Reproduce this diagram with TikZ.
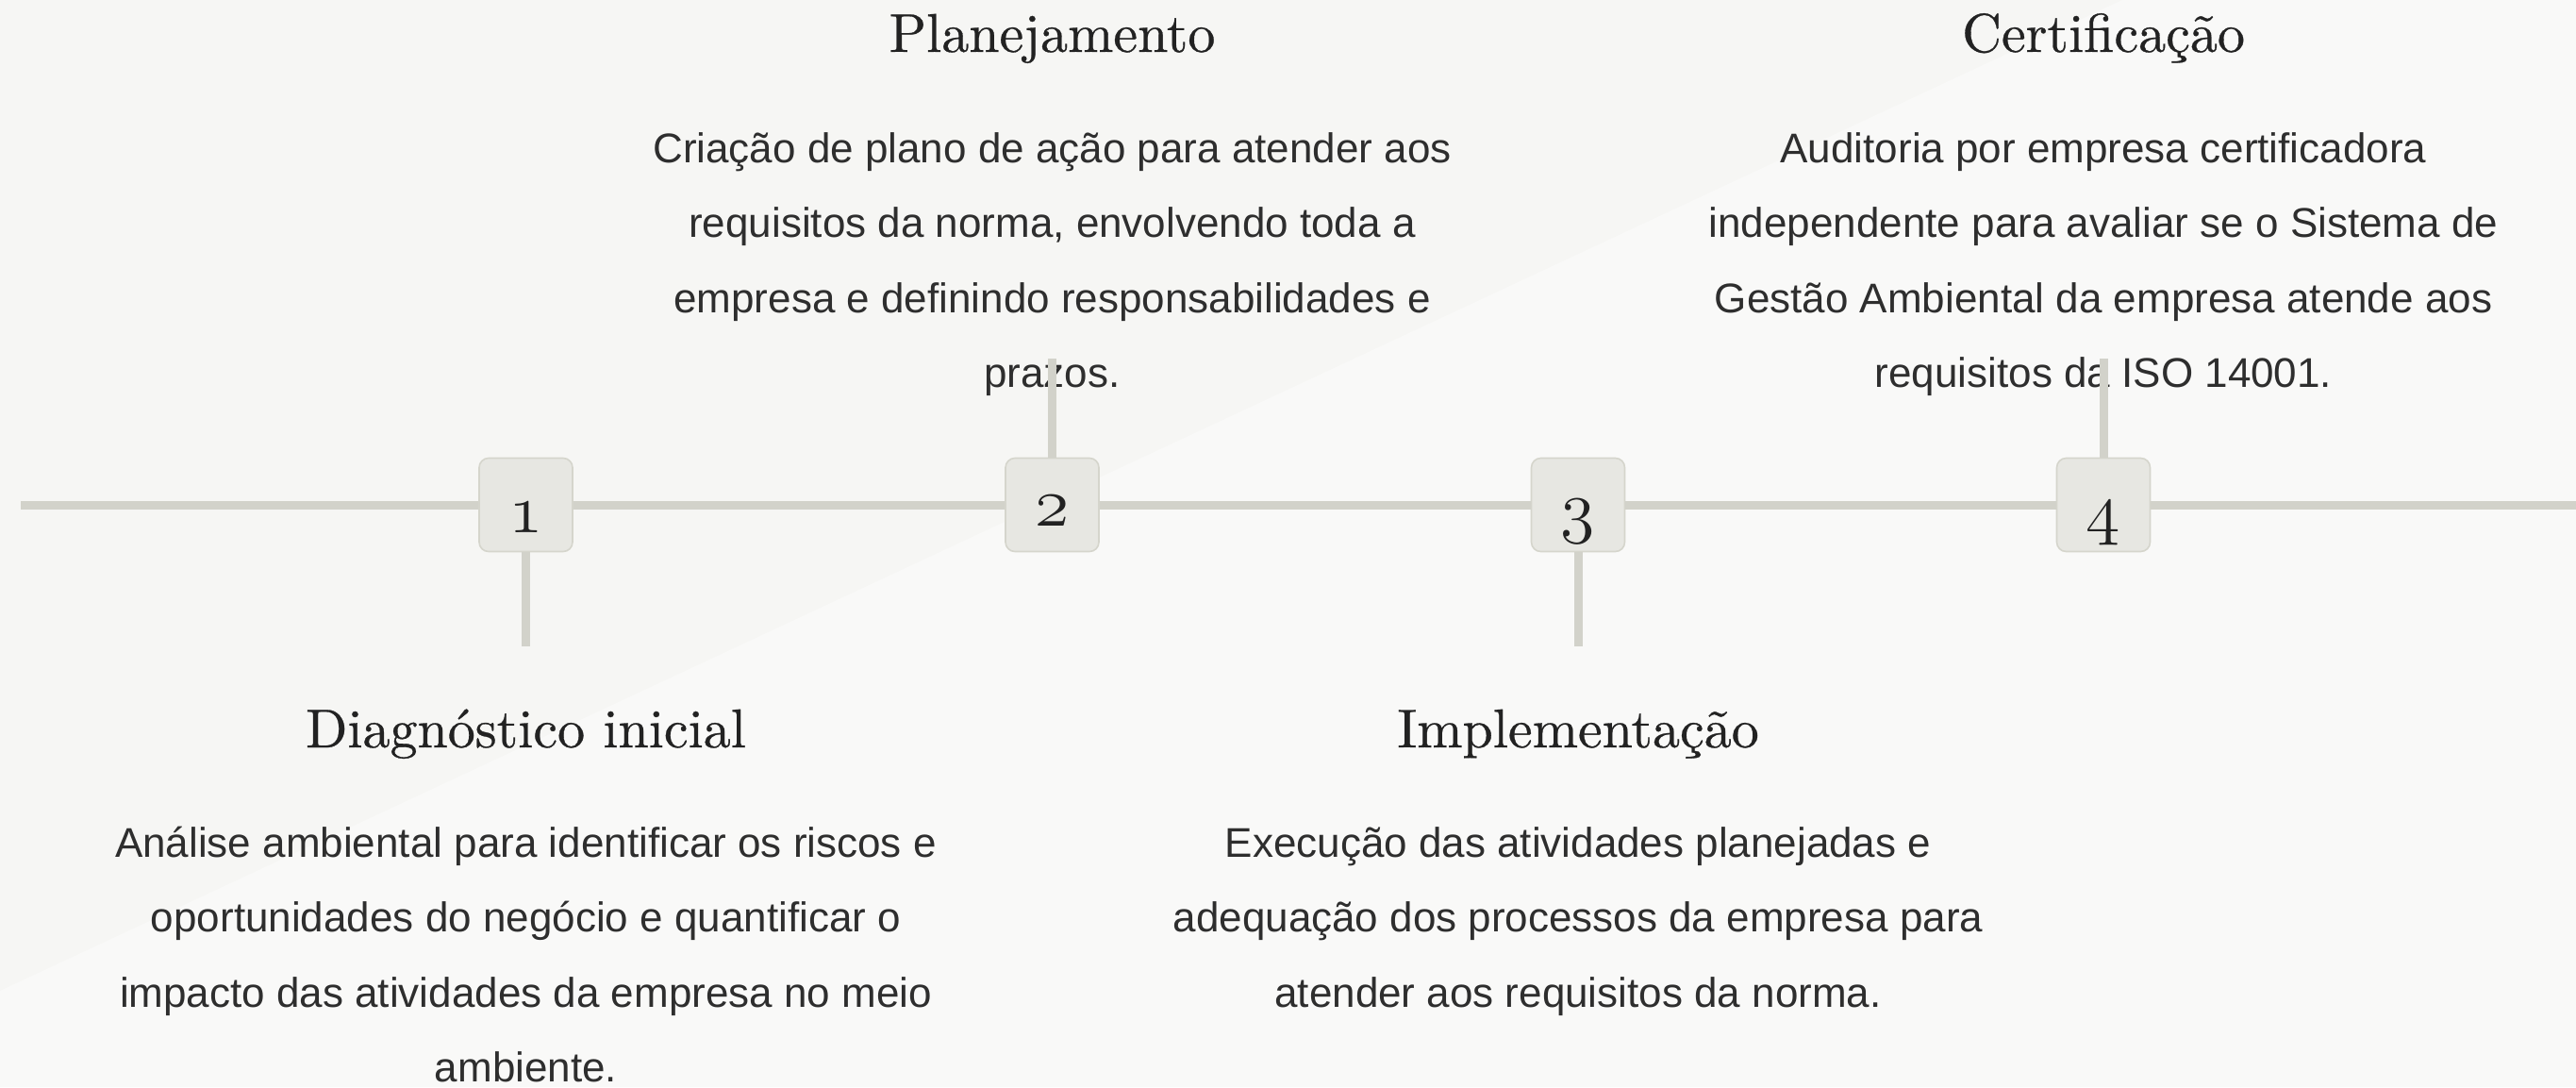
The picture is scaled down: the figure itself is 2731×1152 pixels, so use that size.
\RequirePackage{fix-cm}
\documentclass[tikz,border=0pt]{standalone}
\usepackage{fontspec}
\newfontfamily\bodyfont{Liberation Sans}
\newfontfamily\titlefont{lmroman10-regular.otf}[FakeBold=0.5]
\definecolor{bg}{HTML}{F6F6F4}
\definecolor{bglight}{HTML}{F9F9F8}
\definecolor{trackc}{HTML}{D2D2CA}
\definecolor{boxfill}{HTML}{E7E7E2}
\definecolor{boxline}{HTML}{D5D5CC}
\definecolor{ink}{HTML}{222222}
\definecolor{bodyink}{HTML}{2E2E2E}
\begin{document}
\begin{tikzpicture}[x=0.5pt,y=-0.5pt,
  track/.style={draw=trackc,line width=4.5pt},
  stepbox/.style={draw=boxline,fill=boxfill,line width=0.8pt,rounded corners=5pt,
    minimum width=49.5pt,minimum height=49.5pt,inner sep=0pt},
  num/.style={font=\fontsize{37}{37}\usefont{OML}{cmm}{m}{it},text=ink,anchor=base,inner sep=0pt},
  title/.style={font=\titlefont\fontsize{29}{35}\selectfont,text=ink,anchor=base,inner sep=0pt},
  body/.style={font=\bodyfont\fontsize{22}{39.75}\selectfont,text=bodyink,align=center,
    anchor=base,inner sep=0pt}]
% background
\fill[bg] (0,0) rectangle (2731,1152);
\fill[bglight] (2250,0) -- (2731,0) -- (2731,1152) -- (0,1152) -- (0,1050) -- cycle;
\useasboundingbox (0,0) rectangle (2731,1152);

% ends of the track and free ends of stems
\coordinate (tstart) at (22,535);
\coordinate (tend) at (2731,535);
\coordinate (s1) at (557.5,685);
\coordinate (s2) at (1115.5,380);
\coordinate (s3) at (1673,685);
\coordinate (s4) at (2230,380);

% boxes
\node[stepbox] (b1) at (557.5,535) {};
\node[stepbox] (b2) at (1115.5,535) {};
\node[stepbox] (b3) at (1673,535) {};
\node[stepbox] (b4) at (2230,535) {};

% track
\draw[track] (tstart) -- (b1.west);
\draw[track] (b1.east) -- (b2.west);
\draw[track] (b2.east) -- (b3.west);
\draw[track] (b3.east) -- (b4.west);
\draw[track] (b4.east) -- (tend);

% numbers
\node[num] (n1) at (557.5,564) {1};
\node[num] (n2) at (1115.5,557) {2};
\node[num] (n3) at (1673,561) {3};
\node[num] (n4) at (2230,563) {4};

% titles
\node[title] (t1) at (557.5,792) {Diagnóstico inicial};
\node[title] (t2) at (1115.5,55) {Planejamento};
\node[title] (t3) at (1673,792) {Implementação};
\node[title] (t4) at (2230,55) {Certificação};

% bodies (anchored at the baseline of the last line)
\node[body] (d1) at (557.5,1146.5) {Análise ambiental para identificar os riscos e\\
oportunidades do negócio e quantificar o\\
impacto das atividades da empresa no meio\\
ambiente.};
\node[body] (d2) at (1115.5,410.5) {Criação de plano de ação para atender aos\\
requisitos da norma, envolvendo toda a\\
empresa e definindo responsabilidades e\\
prazos.};
\node[body] (d3) at (1673,1067) {Execução das atividades planejadas e\\
adequação dos processos da empresa para\\
atender aos requisitos da norma.};
\node[body] (d4) at (2230,410.5) {Auditoria por empresa certificadora\\
independente para avaliar se o Sistema de\\
Gestão Ambiental da empresa atende aos\\
requisitos da ISO 14001.};

% stems
\draw[track] (b1.south) -- (s1);
\draw[track] (b2.north) -- (s2);
\draw[track] (b3.south) -- (s3);
\draw[track] (b4.north) -- (s4);
\end{tikzpicture}
\end{document}
